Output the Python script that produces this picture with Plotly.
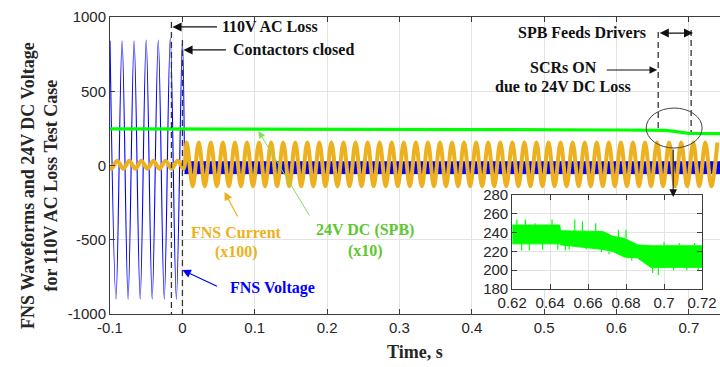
import plotly.graph_objects as go

# ---------------- values ----------------
mains_hz = 60  # one cycle ~ 12 px on the time axis

# FNS voltage before the 110 V AC loss (positive peaks / negative troughs)
volt_peak_times = [-0.1, -0.0833, -0.0667, -0.05, -0.0333, -0.0167, 0.0]
volt_peak_values = [840, 840, 840, 845, 845, 860, 840]
volt_trough_times = [-0.0917, -0.075, -0.0583, -0.0417, -0.025, -0.0083]
volt_trough_values = [-900, -900, -900, -900, -900, -900]
# FNS voltage after the contactors closed: narrow band around zero
volt_band_times = [0.003, 0.743]
volt_band_high = [25, 25]
volt_band_low = [-55, -55]

# FNS current (x100): two segments (before / after t = 0)
cur_seg_first_peak = [-0.090, 0.006]
cur_seg_end = [0.002, 0.743]
cur_seg_high = [32, 155]
cur_seg_low = [-22, -140]

# 24V DC (SPB) (x10)
dc_times = [-0.1, 0.0, 0.2, 0.4, 0.6, 0.645, 0.668, 0.68, 0.69, 0.70, 0.743]
dc_values = [246, 246, 244, 242, 239, 238, 236, 230, 222, 216, 214]

# Inset (zoom 0.62 - 0.72 s): noisy band envelope of the 24V DC trace
inset_times = [0.62, 0.645, 0.6455, 0.668, 0.673, 0.679, 0.686, 0.693, 0.72]
inset_high = [248, 248, 242, 241, 236, 234, 227, 226, 226]
inset_low = [228, 228, 227, 222, 220, 214, 213, 203, 203]
spike_times = [0.6225, 0.627, 0.632, 0.641, 0.653, 0.657, 0.664, 0.676, 0.680,
               0.625, 0.636, 0.648, 0.659, 0.667, 0.683, 0.688, 0.694, 0.697,
               0.705, 0.712, 0.718, 0.629, 0.644, 0.650, 0.671, 0.691, 0.700,
               0.708, 0.716]
spike_from = [248, 248, 248, 248, 241, 241, 241, 234, 234,
              228, 228, 227, 226, 222, 214, 214, 203, 203, 203, 203, 203,
              228, 228, 227, 220, 213, 226, 226, 226]
spike_to = [254, 254, 250, 254, 254, 252, 250, 243, 243,
            221, 222, 221, 222, 219, 210, 212, 197, 195, 200, 200, 200,
            221, 222, 222, 217, 209, 230, 229, 229]

main_xticks = [-0.1, 0, 0.1, 0.2, 0.3, 0.4, 0.5, 0.6, 0.7]
main_xlabels = ["-0.1", "0", "0.1", "0.2", "0.3", "0.4", "0.5", "0.6", "0.7"]
main_yticks = [-1000, -500, 0, 500, 1000]
main_ylabels = ["-1000", "-500", "0", "500", "1000"]
inset_xticks = [0.62, 0.64, 0.66, 0.68, 0.70, 0.72]
inset_xlabels = ["0.62", "0.64", "0.66", "0.68", "0.7", "0.72"]
inset_yticks = [180, 200, 220, 240, 260, 280]

# ---------------- build traces ----------------
BLUE = "#0000FF"
ORANGE = "#EDB120"
GREEN = "#00FF00"
TXT_GREEN = "#5CC72E"
SANS = "Liberation Sans, Arial, sans-serif"
SERIF = "Liberation Serif, Times New Roman, serif"

# voltage extrema merged in time order
volt_t = []
volt_v = []
for i in range(len(volt_peak_times)):
    volt_t.append(volt_peak_times[i]); volt_v.append(volt_peak_values[i])
    if i < len(volt_trough_times):
        volt_t.append(volt_trough_times[i]); volt_v.append(volt_trough_values[i])
volt_t.append(volt_band_times[0]); volt_v.append(0)

# current extrema: alternate high/low every half cycle within each segment
half = 1.0 / (2 * mains_hz)
cur_t, cur_v = [], []
for s in range(len(cur_seg_first_peak)):
    k = -2 if s == 0 else 0
    while True:
        t = cur_seg_first_peak[s] + k * half
        if t > cur_seg_end[s]:
            break
        cur_t.append(t)
        cur_v.append(cur_seg_high[s] if k % 2 == 0 else cur_seg_low[s])
        k += 1

fig = go.Figure()

# voltage band after t=0
fig.add_trace(go.Scatter(x=volt_band_times, y=volt_band_low, mode="lines",
                         line=dict(color=BLUE, width=1), hoverinfo="skip"))
fig.add_trace(go.Scatter(x=volt_band_times, y=volt_band_high, mode="lines",
                         line=dict(color=BLUE, width=1), fill="tonexty",
                         fillcolor=BLUE, hoverinfo="skip"))
# voltage before loss
fig.add_trace(go.Scatter(x=volt_t, y=volt_v, mode="lines",
                         line=dict(color=BLUE, width=1.1, shape="spline", smoothing=1.0)))
# current
fig.add_trace(go.Scatter(x=cur_t, y=cur_v, mode="lines",
                         line=dict(color=ORANGE, width=4, shape="spline", smoothing=1.0)))
# 24 V DC
fig.add_trace(go.Scatter(x=dc_times, y=dc_values, mode="lines",
                         line=dict(color=GREEN, width=3.2)))

# inset traces
fig.add_trace(go.Scatter(x=inset_times, y=inset_low, mode="lines", xaxis="x2", yaxis="y2",
                         line=dict(color=GREEN, width=1), hoverinfo="skip"))
fig.add_trace(go.Scatter(x=inset_times, y=inset_high, mode="lines", xaxis="x2", yaxis="y2",
                         line=dict(color=GREEN, width=1), fill="tonexty", fillcolor=GREEN,
                         hoverinfo="skip"))
sx, sy = [], []
for i in range(len(spike_times)):
    sx += [spike_times[i], spike_times[i], None]
    sy += [spike_from[i], spike_to[i], None]
fig.add_trace(go.Scatter(x=sx, y=sy, mode="lines", xaxis="x2", yaxis="y2",
                         line=dict(color=GREEN, width=1.2), hoverinfo="skip"))

# ---------------- layout ----------------
axis_common = dict(ticks="inside", ticklen=5, tickcolor="#3C3C3C", showline=True,
                   linecolor="#3C3C3C", linewidth=1, zeroline=False, showgrid=True,
                   gridcolor="#E3E3E3", gridwidth=1, automargin=False,
                   tickfont=dict(family=SANS, size=15, color="#262626"))

fig.update_layout(
    width=720, height=367,
    margin=dict(l=110, r=0, t=17, b=53, autoexpand=False),
    plot_bgcolor="white", paper_bgcolor="white",
    showlegend=False,
    xaxis=dict(range=[-0.1, 0.743], tickvals=main_xticks, ticktext=main_xlabels,
               mirror="ticks", domain=[0, 1], **axis_common),
    yaxis=dict(range=[-1000, 1000], tickvals=main_yticks, ticktext=main_ylabels,
               mirror=False, domain=[0, 1], **axis_common),
    xaxis2=dict(range=[0.62, 0.72], tickvals=inset_xticks, ticktext=inset_xlabels,
                domain=[0.6593, 0.9705], anchor="y2", mirror="ticks", **axis_common),
    yaxis2=dict(range=[180, 280], tickvals=inset_yticks,
                domain=[0.0842, 0.4007], anchor="x2", mirror="ticks", **axis_common),
)

dash = "6px,4px"
line_c = "#333333"
# dashed event lines
for (x, y0, y1) in [(-0.0151, 966, -1000), (0.0001, 845, -1000),
                    (0.6576, 899, 226), (0.7031, 912, 226)]:
    fig.add_shape(type="line", xref="x", yref="y", x0=x, x1=x, y0=y0, y1=y1,
                  line=dict(color=line_c, width=1.3, dash=dash))
# ellipse
fig.add_shape(type="circle", xref="x", yref="y", x0=0.6410, x1=0.7183, y0=118, y1=387,
              line=dict(color="#444444", width=1))

def arrow(tip, tail, color="#111111", side="end", width=1.3, size=1.4, head=2):
    fig.add_annotation(x=tip[0], y=tip[1], ax=tail[0], ay=tail[1], xref="x", yref="y",
                       axref="x", ayref="y", text="", showarrow=True, arrowhead=head,
                       arrowsize=size, arrowwidth=width, arrowcolor=color, arrowside=side,
                       startarrowhead=head, startarrowsize=size)

def label(x, y, text, color="#111111", size=16):
    fig.add_annotation(x=x, y=y, xref="x", yref="y", text="<b>" + text + "</b>",
                       showarrow=False, xanchor="center", yanchor="middle",
                       font=dict(family=SERIF, size=size, color=color))

arrow((-0.0137, 933), (0.0499, 933))
label(0.1217, 933, "110V AC Loss")
arrow((0.0015, 778), (0.0623, 778))
label(0.1535, 778, "Contactors closed")
arrow((0.7058, 892), (0.6576, 892), side="end+start")
label(0.5526, 899, "SPB Feeds Drivers")
arrow((0.6562, 643), (0.5844, 643), width=1.1)
label(0.5264, 663, "SCRs ON")
label(0.5264, 529, "due to 24V DC Loss")
arrow((0.6783, -212), (0.6783, 118), width=1.1)

arrow((0.0582, -178), (0.0775, -354), color=ORANGE, width=1.2)
label(0.0747, -448, "FNS Current", color=ORANGE)
label(0.0747, -582, "(x100)", color=ORANGE)

arrow((0.1051, 232), (0.1769, -347), color="#7FE05A", width=1.0)
label(0.2529, -434, "24V DC (SPB)", color=TXT_GREEN)
label(0.2529, -576, "(x10)", color=TXT_GREEN)

arrow((0.0001, -704), (0.0499, -818), color=BLUE, width=1.2)
label(0.1244, -825, "FNS Voltage", color=BLUE)

# axis titles
fig.add_annotation(xref="paper", yref="paper", x=-0.1147, y=0.431, textangle=-90,
                   text="<b>FNS Waveforms and 24V DC Voltage<br>for 110V AC Loss Test Case</b>",
                   showarrow=False, xanchor="center", yanchor="middle",
                   font=dict(family=SERIF, size=18, color="#262626"))
fig.add_annotation(xref="paper", yref="paper", x=0.5004, y=-0.128,
                   text="<b>Time, s</b>", showarrow=False, xanchor="center", yanchor="middle",
                   font=dict(family=SERIF, size=18, color="#262626"))

fig.write_html("out.html")
